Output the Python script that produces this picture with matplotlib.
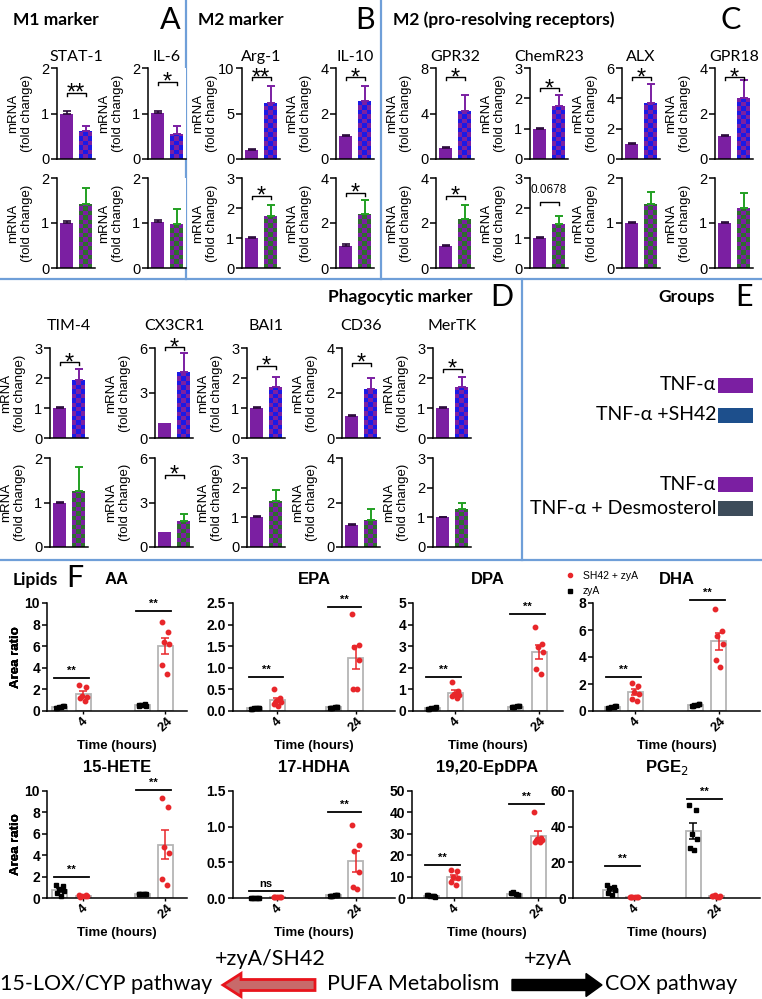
import numpy as np
import matplotlib
matplotlib.use("Agg")
import matplotlib.pyplot as plt
from matplotlib.colors import ListedColormap
from matplotlib.patches import Rectangle, FancyArrow
from matplotlib.lines import Line2D

plt.rcParams["font.family"] = ["Liberation Sans", "DejaVu Sans"]
plt.rcParams["axes.linewidth"] = 1.1

# ---------------- data: macrophage mRNA (fold change) ----------------
top_genes = ["STAT-1", "IL-6", "Arg-1", "IL-10", "GPR32", "ChemR23", "ALX", "GPR18"]

tnf_a = [1.0, 1.02, 1.0, 1.0, 1.0, 1.0, 1.0, 1.0]
tnf_a_err = [0.05, 0.04, 0.1, 0.05, 0.05, 0.03, 0.05, 0.05]
sh42 = [0.62, 0.55, 6.2, 2.55, 4.25, 1.75, 3.7, 2.68]
sh42_err = [0.10, 0.18, 1.8, 0.66, 1.4, 0.35, 1.26, 0.8]
sh42_ymax = [2, 2, 10, 4, 8, 3, 6, 4]
sh42_ticks = [[0, 1, 2], [0, 1, 2], [0, 5, 10], [0, 2, 4], [0, 4, 8], [0, 1, 2, 3], [0, 2, 4, 6], [0, 2, 4]]
sh42_sig = ["**", "*", "**", "*", "*", "*", "*", "*"]
sh42_sig_y = [1.46, 1.7, 9.0, 3.6, 7.2, 2.33, 5.4, 3.6]

tnf_b = [1.0, 1.02, 1.0, 1.0, 1.0, 1.0, 1.0, 1.0]
tnf_b_err = [0.04, 0.04, 0.03, 0.05, 0.03, 0.03, 0.02, 0.02]
des = [1.42, 0.97, 1.74, 2.38, 2.2, 1.47, 1.43, 1.33]
des_err = [0.36, 0.34, 0.36, 0.63, 0.6, 0.27, 0.27, 0.34]
des_ymax = [2, 2, 3, 4, 4, 3, 2, 2]
des_ticks = [[0, 1, 2], [0, 1, 2], [0, 1, 2, 3], [0, 2, 4], [0, 2, 4], [0, 1, 2, 3], [0, 1, 2], [0, 1, 2]]
des_sig = ["", "", "*", "*", "*", "0.0678", "", ""]
des_sig_y = [0, 0, 2.4, 3.33, 3.2, 2.2, 0, 0]

phago_genes = ["TIM-4", "CX3CR1", "BAI1", "CD36", "MerTK"]
ph_tnf_a = [1.0, 1.0, 1.0, 1.0, 1.0]
ph_tnf_a_err = [0.03, 0.0, 0.03, 0.04, 0.02]
ph_sh42 = [1.92, 4.4, 1.7, 2.2, 1.7]
ph_sh42_err = [0.37, 1.25, 0.35, 0.47, 0.33]
ph_sh42_ymax = [3, 6, 3, 4, 3]
ph_sh42_ticks = [[0, 1, 2, 3], [0, 3, 6], [0, 1, 2, 3], [0, 2, 4], [0, 1, 2, 3]]
ph_sh42_sig = ["*", "*", "*", "*", "*"]
ph_sh42_sig_y = [2.53, 6.05, 2.4, 3.33, 2.3]

ph_tnf_b = [1.0, 1.0, 1.0, 1.0, 1.0]
ph_tnf_b_err = [0.02, 0.0, 0.04, 0.04, 0.02]
ph_des = [1.26, 1.77, 1.55, 1.21, 1.27]
ph_des_err = [0.54, 0.45, 0.38, 0.48, 0.2]
ph_des_ymax = [2, 6, 3, 4, 3]
ph_des_ticks = [[0, 1, 2], [0, 3, 6], [0, 1, 2, 3], [0, 2, 4], [0, 1, 2, 3]]
ph_des_sig = ["", "*", "", "", ""]
ph_des_sig_y = [0, 4.86, 0, 0, 0]

# ---------------- data: lipids (area ratio), [4 h, 24 h] ----------------
times = ["4", "24"]
lipid_names = ["AA", "EPA", "DPA", "DHA", "15-HETE", "17-HDHA", "19,20-EpDPA", "PGE$_2$"]

AA_zyA = [[0.30, 0.42, 0.35, 0.45, 0.28, 0.38], [0.50, 0.62, 0.55, 0.48, 0.60, 0.52]]
AA_SH42 = [[2.4, 2.2, 1.4, 1.3, 1.2, 0.95], [8.2, 7.3, 6.4, 6.25, 4.3, 3.4]]
EPA_zyA = [[0.05, 0.07, 0.06, 0.08, 0.04, 0.06], [0.08, 0.09, 0.07, 0.10, 0.08, 0.09]]
EPA_SH42 = [[0.5, 0.29, 0.23, 0.2, 0.17, 0.12], [2.25, 1.53, 1.48, 1.17, 0.5, 0.5]]
DPA_zyA = [[0.10, 0.15, 0.12, 0.18, 0.08, 0.13], [0.18, 0.22, 0.20, 0.25, 0.17, 0.21]]
DPA_SH42 = [[1.35, 0.92, 0.81, 0.76, 0.69, 0.58], [3.9, 3.1, 2.95, 2.75, 1.95, 1.7]]
DHA_zyA = [[0.25, 0.35, 0.30, 0.38, 0.22, 0.32], [0.40, 0.50, 0.45, 0.52, 0.38, 0.47]]
DHA_SH42 = [[2.1, 1.88, 1.4, 1.25, 0.88, 0.75], [7.55, 5.9, 5.55, 5.0, 3.8, 3.25]]
HETE_zyA = [[1.2, 1.1, 0.8, 0.7, 0.5, 0.15], [0.35, 0.40, 0.38, 0.42, 0.33, 0.37]]
HETE_SH42 = [[0.25, 0.3, 0.2, 0.15, 0.1, 0.2], [9.3, 8.5, 4.8, 4.2, 1.8, 1.2]]
HDHA_zyA = [[0.0, 0.002, 0.0, 0.003, 0.0, 0.001], [0.03, 0.04, 0.035, 0.045, 0.025, 0.04]]
HDHA_SH42 = [[0.01, 0.015, 0.008, 0.012, 0.01, 0.02], [1.02, 0.75, 0.66, 0.37, 0.16, 0.12]]
EpDPA_zyA = [[1.2, 0.8, 1.0, 0.6, 1.5, 0.9], [2.2, 1.6, 2.8, 1.5, 2.5, 1.9]]
EpDPA_SH42 = [[13.2, 12.4, 9.8, 9.5, 7.3, 6.2], [40, 28, 27.5, 27, 26.4, 26]]
PGE2_zyA = [[7.2, 5.9, 5.7, 4.4, 3.0, 1.9], [52.4, 49.3, 36, 33, 28, 27]]
PGE2_SH42 = [[0.5, 0.7, 0.4, 0.6, 0.3, 0.5], [1.2, 0.8, 1.5, 0.9, 1.0, 0.6]]

lipid_zyA = [AA_zyA, EPA_zyA, DPA_zyA, DHA_zyA, HETE_zyA, HDHA_zyA, EpDPA_zyA, PGE2_zyA]
lipid_SH42 = [AA_SH42, EPA_SH42, DPA_SH42, DHA_SH42, HETE_SH42, HDHA_SH42, EpDPA_SH42, PGE2_SH42]
lipid_ymax = [10, 2.5, 5, 8, 10, 1.5, 50, 60]
lipid_step = [2, 0.5, 1, 2, 2, 0.5, 10, 20]
lipid_sig = [["**", "**"], ["**", "**"], ["**", "**"], ["**", "**"],
             ["**", "**"], ["ns", "**"], ["**", "**"], ["**", "**"]]
lipid_sig_y = [[3.06, 9.3], [0.78, 2.4], [1.57, 4.48], [2.5, 8.2],
               [1.95, 10.1], [0.1, 1.2], [15.5, 44], [18.2, 55.6]]

# ---------------- style ----------------
PURPLE = "#7b1fa2"
BLUE = "#1a1ae6"
GREEN = "#2e6e2e"
GREEN_ERR = "#22a022"
DARK = "#2a0a3a"
RED = "#e8262a"
PANEL_LINE = "#6f9fd8"
CAL = ["Lato", "DejaVu Sans"]

W, H = 762, 999
fig = plt.figure(figsize=(W / 100, H / 100), dpi=100)

ov = fig.add_axes([0, 0, 1, 1])
ov.set_xlim(0, W)
ov.set_ylim(H, 0)
ov.axis("off")


def add_ax(x, y, w, h):
    return fig.add_axes([x / W, 1 - (y + h) / H, w / W, h / H])


def checker_bar(ax, x, h, w, c_a, c_b, ppu_x, ppu_y, cell=4.4):
    patch = ax.bar(x, h, w, color="none", edgecolor="none", zorder=2)[0]
    ncol = max(1, int(round(w * ppu_x / cell)))
    nrow = max(1, int(np.ceil(h * ppu_y / cell)))
    grid = np.add.outer(np.arange(nrow), np.arange(ncol)) % 2
    top = nrow * cell / ppu_y
    im = ax.imshow(grid, cmap=ListedColormap([c_a, c_b]), vmin=0, vmax=1,
                   extent=(x - w / 2, x + w / 2, 0, top), origin="lower",
                   aspect="auto", interpolation="nearest", zorder=2)
    im.set_clip_path(patch)


def mrna_panel(x, y, w, h, title, base, base_e, trt, trt_e, ymax, ticks,
               check_col, err_col, sig, sig_y, title_pad=5):
    ax = add_ax(x, y, w, h)
    ppu_x = w / 2.0
    ppu_y = h / ymax
    bw = 0.65
    ax.bar(0, base, bw, color=PURPLE, zorder=2)
    if base_e > 0:
        ax.errorbar(0, base, yerr=[[0], [base_e]], fmt="none", ecolor=DARK,
                    elinewidth=1.2, capsize=3, capthick=1.2, zorder=3)
    checker_bar(ax, 1, trt, bw, check_col, PURPLE, ppu_x, ppu_y)
    ax.errorbar(1, trt, yerr=[[0], [trt_e]], fmt="none", ecolor=err_col,
                elinewidth=1.4, capsize=3, capthick=1.4, zorder=3)
    ax.set_xlim(-0.5, 1.5)
    ax.set_ylim(0, ymax)
    ax.set_yticks(ticks)
    ax.set_xticks([])
    for s in ["top", "right"]:
        ax.spines[s].set_visible(False)
    ax.tick_params(axis="y", length=4, width=1.1, pad=1.5, labelsize=10.5)
    ax.set_ylabel("mRNA\n(fold change)", fontsize=9.5, linespacing=1.25)
    ax.yaxis.set_label_coords(-0.62, 0.5)
    if title:
        ax.set_title(title, fontsize=11.5, family=CAL, pad=title_pad)
    if sig:
        d = 3.0 / ppu_y
        ax.plot([0, 0, 1, 1], [sig_y - d, sig_y, sig_y, sig_y - d], color="k",
                lw=1.0, clip_on=False, zorder=4)
        if sig.startswith("0"):
            ax.annotate(sig, (0.5, sig_y), xytext=(0, 4), textcoords="offset points",
                        ha="center", va="bottom", fontsize=8.5, annotation_clip=False)
        else:
            ax.annotate(sig, (0.5, sig_y), xytext=(0, -5), textcoords="offset points",
                        ha="center", va="baseline", fontsize=17, annotation_clip=False)
    return ax


# ---------------- panels A-C ----------------
top_x = [57, 148, 242, 336, 436, 530, 622, 715]
for i, g in enumerate(top_genes):
    mrna_panel(top_x[i], 68, 38, 91, g, tnf_a[i], tnf_a_err[i], sh42[i], sh42_err[i],
               sh42_ymax[i], sh42_ticks[i], BLUE, PURPLE, sh42_sig[i], sh42_sig_y[i])
    mrna_panel(top_x[i], 178, 38, 90, "", tnf_b[i], tnf_b_err[i], des[i], des_err[i],
               des_ymax[i], des_ticks[i], GREEN, GREEN_ERR, des_sig[i], des_sig_y[i])

# ---------------- panel D ----------------
ph_x = [50, 155, 247, 342, 433]
for i, g in enumerate(phago_genes):
    mrna_panel(ph_x[i], 348, 38, 90, g, ph_tnf_a[i], ph_tnf_a_err[i], ph_sh42[i],
               ph_sh42_err[i], ph_sh42_ymax[i], ph_sh42_ticks[i], BLUE, PURPLE,
               ph_sh42_sig[i], ph_sh42_sig_y[i], title_pad=13)
    mrna_panel(ph_x[i], 458, 38, 89, "", ph_tnf_b[i], ph_tnf_b_err[i], ph_des[i],
               ph_des_err[i], ph_des_ymax[i], ph_des_ticks[i], GREEN, GREEN_ERR,
               ph_des_sig[i], ph_des_sig_y[i])

# ---------------- panel F: lipids ----------------
lip_rects = [(47, 603, 140, 108), (233, 603, 162, 108), (413, 603, 150, 108), (593, 603, 167, 108),
             (47, 791, 140, 107), (233, 791, 162, 107), (412, 791, 150, 107), (573, 791, 187, 107)]
lip_xlim = [(-0.298, 1.404), (-0.419, 1.636), (-0.368, 1.427), (-0.368, 1.632),
            (-0.298, 1.404), (-0.419, 1.636), (-0.368, 1.427), (-0.602, 1.676)]
jit = np.array([-0.05, 0.04, -0.02, 0.05, -0.04, 0.02])
off = 0.14

lip_axes = []
for k in range(8):
    x, y, w, h = lip_rects[k]
    ax = add_ax(x, y, w, h)
    lip_axes.append(ax)
    xl = lip_xlim[k]
    bw = 15.0 * (xl[1] - xl[0]) / w
    for t in range(2):
        for grp, col, mk, dx in [(lipid_zyA[k][t], "k", "s", -off), (lipid_SH42[k][t], RED, "o", off)]:
            vals = np.array(grp)
            m = vals.mean()
            se = vals.std(ddof=1) / np.sqrt(len(vals))
            ax.bar(t + dx, m, bw, facecolor="white", edgecolor="#b5b5b5", lw=1.3, zorder=1)
            ax.plot(t + dx + jit[:len(vals)] * 0.9, vals, ls="none", marker=mk, ms=3.2,
                    color=col, zorder=3, clip_on=False)
            ax.errorbar(t + dx, m, yerr=se, fmt="none", ecolor=col, elinewidth=1.1,
                        capsize=3, capthick=1.1, zorder=4)
        sy = lipid_sig_y[k][t]
        ax.plot([t - off - 0.07, t + off + 0.07], [sy, sy], color="k", lw=1.3,
                clip_on=False, zorder=4)
        ax.annotate(lipid_sig[k][t], (t, sy), xytext=(0, 1.5), textcoords="offset points",
                    ha="center", va="bottom", fontsize=8, fontweight="bold",
                    annotation_clip=False)
    ax.set_xlim(*xl)
    ax.set_ylim(0, lipid_ymax[k])
    yt = np.arange(0, lipid_ymax[k] + 1e-9, lipid_step[k])
    ax.set_yticks(yt)
    if lipid_step[k] < 1:
        ax.set_yticklabels([f"{v:.1f}" for v in yt])
    else:
        ax.set_yticklabels([f"{v:g}" for v in yt])
    ax.set_xticks([0 + off, 1 + off])
    ax.set_xticklabels(times, rotation=45, ha="center", fontsize=9.5, fontweight="bold")
    for s in ["top", "right"]:
        ax.spines[s].set_visible(False)
    ax.tick_params(axis="y", length=3.5, width=1.1, pad=1.5, labelsize=10)
    ax.tick_params(axis="x", length=2, width=1.0, pad=1)
    for lab in ax.get_yticklabels():
        lab.set_fontweight("bold")
    ax.set_ylabel("Area ratio", fontsize=9.5, fontweight="bold")
    ax.yaxis.set_label_coords(-(x - 22) / w, 0.5)
    ax.set_xlabel("Time (hours)", fontsize=9.5, fontweight="bold")
    ax.xaxis.set_label_coords(0.5, -29.0 / h)
    ax.set_title(lipid_names[k], fontsize=12, fontweight="bold", pad=14)

leg_handles = [Line2D([], [], ls="none", marker="o", ms=3, color=RED),
               Line2D([], [], ls="none", marker="s", ms=3, color="k")]
lip_axes[3].legend(leg_handles, ["SH42 + zyA", "zyA"], loc="upper left",
                   bbox_to_anchor=(566, 571), bbox_transform=ov.transData,
                   frameon=False, fontsize=7.5, handlelength=0.8, handletextpad=0.8,
                   labelspacing=0.5, borderpad=0, borderaxespad=0)

# ---------------- panel frames and headers ----------------
for xs, ys in [([186, 186], [0, 279]), ([381, 381], [0, 279]), ([0, W], [279, 279]),
               ([522, 522], [279, 560]), ([0, W], [560, 560])]:
    ov.plot(xs, ys, color=PANEL_LINE, lw=1.6)

hdr = dict(fontsize=12.5, fontweight="bold", family=CAL, va="center")
ov.text(13, 20, "M1 marker", ha="left", **hdr)
ov.text(198, 20, "M2 marker", ha="left", **hdr)
ov.text(393, 20, "M2 (pro-resolving receptors)", ha="left", **hdr)
ov.text(473, 297, "Phagocytic marker", ha="right", **hdr)
ov.text(715, 297, "Groups", ha="right", **hdr)
ov.text(13, 580, "Lipids", ha="left", **hdr)
big = dict(fontsize=22, family=CAL, va="center", ha="center")
for lx, ly, lt in [(170, 20, "A"), (365, 20, "B"), (731, 20, "C"),
                   (502, 297, "D"), (744, 297, "E"), (75, 578, "F")]:
    ov.text(lx, ly, lt, **big)

# ---------------- panel E: group key ----------------
key_rows = [(385, "TNF-\u03b1", PURPLE), (415, "TNF-\u03b1 +SH42", "#1d4f8c"),
            (484, "TNF-\u03b1", PURPLE), (508, "TNF-\u03b1 + Desmosterol", "#3d4c5a")]
for ky, kt, kc in key_rows:
    ov.text(716, ky, kt, ha="right", va="center", fontsize=14, family=CAL)
    ov.add_patch(Rectangle((718, ky - 7.5), 35, 15, facecolor=kc, edgecolor="none"))

# ---------------- pathway scheme ----------------
low = dict(fontsize=15.5, family=CAL, va="center")
ov.text(0, 984, "15-LOX/CYP pathway", ha="left", **low)
ov.text(413, 984, "PUFA Metabolism", ha="center", **low)
ov.text(605, 984, "COX pathway", ha="left", **low)
ov.text(270, 959, "+zyA/SH42", ha="center", **low)
ov.text(548, 959, "+zyA", ha="center", **low)
ov.add_patch(FancyArrow(315, 985, -92, 0, width=11, head_width=23, head_length=18,
                        length_includes_head=True, facecolor="#c86a6a",
                        edgecolor="#e8141c", lw=2))
ov.add_patch(FancyArrow(512, 985, 90, 0, width=11, head_width=23, head_length=16,
                        length_includes_head=True, facecolor="k", edgecolor="k"))

fig.savefig("out.png", dpi=100)
